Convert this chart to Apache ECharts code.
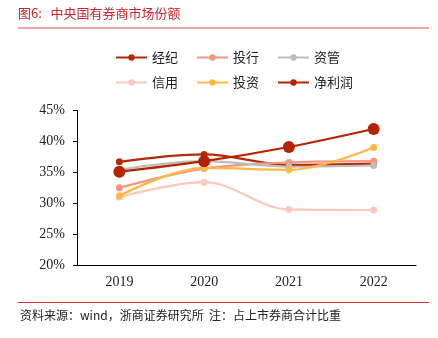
<!DOCTYPE html>
<html><head><meta charset="utf-8">
<script src="https://cdn.jsdelivr.net/npm/echarts@6/dist/echarts.min.js"></script>
<style>html,body{margin:0;padding:0;background:#fff;}#c{width:438px;height:338px;}</style>
</head><body><div id="c"></div>
<script>
const categories = ['2019','2020','2021','2022'];
const jingji = [36.7, 37.9, 36.2, 36.4];
const touhang = [32.5, 35.6, 36.6, 36.8];
const ziguan = [35.4, 36.8, 35.9, 36.1];
const xinyong = [31.0, 33.4, 29.0, 28.9];
const touzi = [31.2, 35.7, 35.4, 39.0];
const jinglirun = [35.1, 36.8, 39.1, 42.0];
const yTicks = [20, 25, 30, 35, 40, 45];

const chart = echarts.init(document.getElementById('c'));
const cjk = '"Noto Sans CJK SC", sans-serif';
const serif = '"Liberation Serif", "DejaVu Serif", serif';
function s(name, data, color, size, width) {
  return {name, type:'line', data, smooth:0.35, symbol:'circle', symbolSize:size,
    lineStyle:{color, width}, itemStyle:{color}, z: name==='净利润'?5:3};
}
chart.setOption({
  animation:false,
  graphic:[
    {type:'text', left:18, top:7, style:{text:'图6:   中央国有券商市场份额', fill:'#c8242b', font:'13px '+cjk}},
    {type:'line', shape:{x1:18,y1:28,x2:429,y2:28}, style:{stroke:'#e05050', lineWidth:1}},
    {type:'line', shape:{x1:18,y1:302.5,x2:429,y2:302.5}, style:{stroke:'#e03030', lineWidth:1}},
    {type:'text', left:20, top:309, style:{text:'资料来源\uFF1Awind\uFF0C浙商证券研究所  注\uFF1A占上市券商合计比重', fill:'#222', font:'12px '+cjk}}
  ],
  legend:[
    {data:['经纪','投行','资管'], left:110, top:46, itemWidth:31, itemHeight:8, itemGap:18, textStyle:{fontFamily:cjk, fontSize:13, color:'#222'}},
    {data:['信用','投资','净利润'], left:110, top:71, itemWidth:31, itemHeight:8, itemGap:18, textStyle:{fontFamily:cjk, fontSize:13, color:'#222'}}
  ],
  grid:{left:77, right:22, top:110.5, bottom:73},
  xAxis:{type:'category', data:categories, boundaryGap:true,
    axisLine:{lineStyle:{color:'#000', width:1}}, axisTick:{length:4, lineStyle:{color:'#000'}},
    axisLabel:{fontFamily:serif, fontSize:14, color:'#222', margin:10}},
  yAxis:{type:'value', min:20, max:45, interval:5,
    axisLine:{show:true, lineStyle:{color:'#000'}}, axisTick:{show:true, length:4, lineStyle:{color:'#000'}},
    splitLine:{show:false},
    axisLabel:{fontFamily:serif, fontSize:14, color:'#222', margin:12, formatter:v=>yTicks.includes(v)?v+'%':''}},
  series:[
    s('经纪', jingji, '#b52a0c', 7, 2.2),
    s('投行', touhang, '#f79580', 7, 2.2),
    s('资管', ziguan, '#bebeb4', 7, 2.2),
    s('信用', xinyong, '#fdc8bc', 7, 2.2),
    s('投资', touzi, '#ffb845', 7, 2.2),
    s('净利润', jinglirun, '#b52200', 12, 2.2)
  ]
});
</script></body></html>
